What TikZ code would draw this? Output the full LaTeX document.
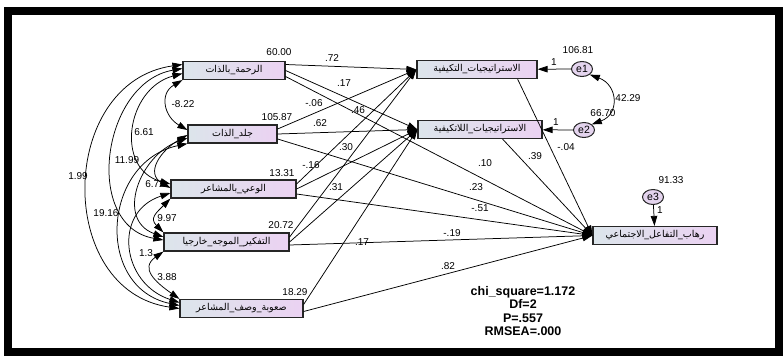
\documentclass[tikz,border=0pt]{standalone}
\usepackage{fontspec}
\setmainfont{Liberation Sans}
\newfontfamily\arabicfont[Script=Arabic]{DejaVu Sans}
\TeXXeTstate=1
\usetikzlibrary{arrows.meta,shapes.geometric}
\definecolor{boxleft}{HTML}{DCE5EB}
\definecolor{boxright}{HTML}{EBD2F2}
\definecolor{errfill}{HTML}{E4D4EE}
\newcommand{\artext}[1]{{\arabicfont\beginR #1\endR}}
\tikzset{
    observed/.style={draw=black!85,line width=1.2pt,left color=boxleft,right color=boxright,
        minimum height=18pt,inner sep=1pt,font=\fontsize{9.5}{10}\selectfont},
    errvar/.style={ellipse,draw=black!85,line width=1pt,fill=errfill,minimum width=21pt,
        minimum height=15pt,inner sep=0pt,font=\fontsize{10.5}{11}\selectfont},
    regression/.style={-{Triangle[length=10pt,width=6.5pt]},line width=0.75pt},
    covariance/.style={{Triangle[length=10pt,width=6.5pt]}-{Triangle[length=10pt,width=6.5pt]},line width=0.75pt},
    coef/.style={font=\fontsize{10}{11}\selectfont,inner sep=0pt},
    fitstat/.style={font=\fontsize{12.5}{13.2}\selectfont\bfseries,align=center,inner sep=0pt}
}
\begin{document}
\begin{tikzpicture}[x=1pt,y=1pt]
\useasboundingbox (0,0) rectangle (783,-356);
\draw[line width=8pt] (8,-11) rectangle (779,-352);

\node[observed,minimum width=102pt] (rahma) at (234,-70.5) {\artext{الرحمة\_بالذات}};
\node[observed,minimum width=89pt] (jald) at (232.5,-134) {\artext{جلد\_الذات}};
\node[observed,minimum width=125pt] (waei) at (233.5,-189) {\artext{الوعي\_بالمشاعر}};
\node[observed,minimum width=125pt] (tafkir) at (226.5,-242) {\artext{التفكير\_الموجه\_خارجيا}};
\node[observed,minimum width=123pt] (suuba) at (241.5,-308.5) {\artext{صعوبة\_وصف\_المشاعر}};
\node[observed,minimum width=120pt] (adapt) at (477,-69.5) {\artext{الاستراتيجيات\_التكيفية}};
\node[observed,minimum width=124pt] (malad) at (480,-129.5) {\artext{الاستراتيجيات\_اللاتكيفية}};
\node[observed,minimum width=124pt] (phobia) at (655,-235.5) {\artext{رهاب\_التفاعل\_الاجتماعي}};
\node[errvar] (e1) at (582,-69) {e1};
\node[errvar] (e2) at (584,-130) {e2};
\node[errvar] (e3) at (653,-197) {e3};

\draw[regression] ([yshift=6pt]rahma.east) -- (adapt.west);
\draw[regression] (rahma.east) -- (malad.west);
\draw[regression] ([yshift=-6pt]rahma.east) -- (phobia.west);
\draw[regression] ([yshift=5pt]jald.east) -- (adapt.west);
\draw[regression] (jald.east) -- (malad.west);
\draw[regression] ([yshift=-5pt]jald.east) -- (phobia.west);
\draw[regression] ([yshift=5pt]waei.east) -- (adapt.west);
\draw[regression] (waei.east) -- (malad.west);
\draw[regression] ([yshift=-5pt]waei.east) -- (phobia.west);
\draw[regression] ([yshift=5pt]tafkir.east) -- (adapt.west);
\draw[regression] (tafkir.east) -- (malad.west);
\draw[regression] ([yshift=-3pt]tafkir.east) -- (phobia.west);
\draw[regression] ([yshift=4pt]suuba.east) -- (malad.west);
\draw[regression] ([yshift=-3pt]suuba.east) -- (phobia.west);
\draw[regression] ([xshift=-20pt]adapt.south east) -- (phobia.west);
\draw[regression] ([xshift=-40pt]malad.south east) -- (phobia.west);
\draw[regression] (e1) -- (adapt);
\draw[regression] (e2) -- (malad);
\draw[regression] (e3) -- (phobia);

\draw[covariance] (rahma.south west) to[out=210,in=150,distance=27pt] ([yshift=4pt]jald.west);
\draw[covariance] ([yshift=-3pt]rahma.west) to[out=195,in=165,distance=58pt] ([yshift=5pt]waei.west);
\draw[covariance] ([yshift=2pt]rahma.west) to[out=190,in=170,distance=82pt] ([yshift=2pt]tafkir.west);
\draw[covariance] ([yshift=6pt]rahma.west) to[out=188,in=172,distance=126pt] (suuba.west);
\draw[covariance] ([yshift=-1pt]jald.west) to[out=210,in=150,distance=30pt] ([yshift=1pt]waei.west);
\draw[covariance] ([yshift=-4pt]jald.west) to[out=200,in=160,distance=51pt] ([yshift=5pt]tafkir.west);
\draw[covariance] (jald.south west) to[out=192,in=168,distance=87pt] ([yshift=3pt]suuba.west);
\draw[covariance] (waei.south west) to[out=225,in=135,distance=20pt] (tafkir.north west);
\draw[covariance] ([yshift=-4pt]waei.west) to[out=198,in=162,distance=61pt] ([yshift=6pt]suuba.west);
\draw[covariance] (tafkir.south west) to[out=215,in=145,distance=29pt] (suuba.north west);
\draw[covariance] (e1.south east) to[out=-20,in=20,distance=30pt] (e2.north east);

\node[coef] (v1) at (279,-52) {60.00};
\node[coef] (v2) at (277,-117) {105.87};
\node[coef] (v3) at (282,-173) {13.31};
\node[coef] (v4) at (281,-225) {20.72};
\node[coef] (v5) at (295,-292) {18.29};
\node[coef] (v6) at (578,-50) {106.81};
\node[coef] (v7) at (603,-113) {66.70};
\node[coef] (v8) at (671,-180) {91.33};

\node[coef] (k1) at (183,-104) {-8.22};
\node[coef] (k2) at (144,-132) {6.61};
\node[coef] (k3) at (127,-160) {11.99};
\node[coef] (k4) at (78,-176) {1.99};
\node[coef] (k5) at (155,-184) {6.72};
\node[coef] (k6) at (106,-213) {19.16};
\node[coef] (k7) at (167,-218) {9.97};
\node[coef] (k8) at (146,-253) {1.3};
\node[coef] (k9) at (167,-277) {3.88};
\node[coef] (k10) at (628,-98) {42.29};

\node[coef] (w1) at (332,-58) {.72};
\node[coef] (w2) at (344,-83) {.17};
\node[coef] (w3) at (314,-103) {-.06};
\node[coef] (w4) at (358,-110) {.46};
\node[coef] (w5) at (320,-123) {.62};
\node[coef] (w6) at (346,-147) {.30};
\node[coef] (w7) at (311,-165) {-.16};
\node[coef] (w8) at (336,-187) {.31};
\node[coef] (w9) at (362,-242) {.17};
\node[coef] (w10) at (485,-163) {.10};
\node[coef] (w11) at (476,-187) {.23};
\node[coef] (w12) at (480,-208) {-.51};
\node[coef] (w13) at (452,-233) {-.19};
\node[coef] (w14) at (448,-266) {.82};
\node[coef] (w15) at (566,-147) {-.04};
\node[coef] (w16) at (535,-156) {.39};
\node[coef] (f1) at (554,-62) {1};
\node[coef] (f2) at (556,-122) {1};
\node[coef] (f3) at (660,-210) {1};

\node[fitstat] (fit) at (523,-311) {chi\_square=1.172\\Df=2\\P=.557\\RMSEA=.000};
\end{tikzpicture}
\end{document}
